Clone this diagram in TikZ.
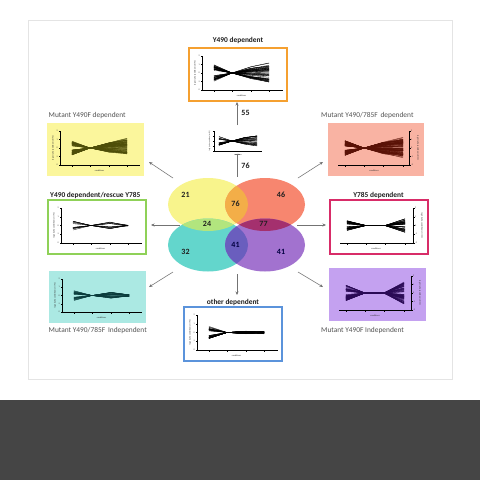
\documentclass[tikz,border=0pt]{standalone}
\usepackage{fontspec}
\setmainfont{Carlito}
\usetikzlibrary{arrows.meta}
\definecolor{cardline}{HTML}{E4E4E4}
\definecolor{band}{HTML}{454545}
\definecolor{vY}{HTML}{F8F48C}
\definecolor{vR}{HTML}{F7866F}
\definecolor{vT}{HTML}{63D6CC}
\definecolor{vP}{HTML}{A272CF}
\definecolor{vYR}{HTML}{F3AE48}
\definecolor{vYT}{HTML}{B2E57E}
\definecolor{vRP}{HTML}{A4306E}
\definecolor{vTP}{HTML}{6A5EBE}
\definecolor{pY}{HTML}{FBF69C}
\definecolor{pR}{HTML}{F9B3A3}
\definecolor{pT}{HTML}{ABE9E3}
\definecolor{pP}{HTML}{C4A1F0}
\definecolor{bO}{HTML}{F5A030}
\definecolor{bG}{HTML}{8FD158}
\definecolor{bC}{HTML}{D82C68}
\definecolor{bB}{HTML}{5B93DB}
\definecolor{lY}{HTML}{4E4E08}
\definecolor{lR}{HTML}{5A1206}
\definecolor{lT}{HTML}{0A3C3C}
\definecolor{lP}{HTML}{2A0A55}

\newcommand\mkpanel[6]{\node[#6, minimum width={#4-#2}, minimum height={#5-#3}, inner sep=0pt, outer sep=0pt] (#1) at ({(#2+#4)/2},{(#3+#5)/2}) {};}

% normal axes (y axis on the left)
\newcommand\axesN[4]{%
 \pgfmathsetmacro\xa{#1+25}\pgfmathsetmacro\xb{#1+43}\pgfmathsetmacro\xc{#1+62}\pgfmathsetmacro\xd{#1+80}%
 \pgfmathsetmacro\ya{#2+8}\pgfmathsetmacro\yb{#4-11}\pgfmathsetmacro\ym{(\ya+\yb)/2}%
 \pgfmathsetmacro\yx{#1+13}%
 \draw[ax] (\yx,\ya) -- (\yx,\yb) -- (#3-4,\yb);
 \foreach \k/\lab in {0/2,1/1,2/0,3/-1,4/-2}{%
   \draw[ax] (\yx,{\ya+\k*(\yb-\ya)/4}) -- ++(-1.5,0);
   \node[tiny,anchor=east] at (\yx-2,{\ya+\k*(\yb-\ya)/4}) {\lab};}
 \foreach \xx in {\xa,\xb,\xc,\xd} \draw[ax] (\xx,\yb) -- ++(0,1.5);
 \node[tiny, rotate=90] at (#1+6,\ym) {log2 (ratio condition/ctrl FC)};
 \node[tiny] at ({(\xa+\xd)/2},\yb+6) {conditions};
}
% mirrored axes (y axis on the right)
\newcommand\axesM[4]{%
 \pgfmathsetmacro\xa{#1+17}\pgfmathsetmacro\xb{#1+36}\pgfmathsetmacro\xc{#1+55}\pgfmathsetmacro\xd{#1+75}%
 \pgfmathsetmacro\ya{#2+8}\pgfmathsetmacro\yb{#4-11}\pgfmathsetmacro\ym{(\ya+\yb)/2}%
 \pgfmathsetmacro\yx{#3-15}%
 \draw[ax] (#1+10,\yb) -- (\yx,\yb) -- (\yx,\ya);
 \foreach \k/\lab in {0/2,1/1,2/0,3/-1,4/-2}{%
   \draw[ax] (\yx,{\ya+\k*(\yb-\ya)/4}) -- ++(1.5,0);
   \node[tiny,anchor=west] at (\yx+2,{\ya+\k*(\yb-\ya)/4}) {\lab};}
 \foreach \xx in {\xa,\xb,\xc,\xd} \draw[ax] (\xx,\yb) -- ++(0,1.5);
 \node[tiny, rotate=-90] at (#3-6,\ym) {log2 (ratio condition/ctrl FC)};
 \node[tiny] at ({(\xa+\xd)/2},\yb+6) {conditions};
}
% bundle of profile lines
\newcommand\bundle[5][]{%
 \foreach \i in {1,...,#2}{%
  \pgfmathsetmacro\sA{2*(rnd>0.5)-1}%
  \pgfmathsetmacro\sB{2*(rnd>0.5)-1}%
  \pgfmathsetmacro\va{#3}%
  \pgfmathsetmacro\vb{#4}%
  \pgfmathsetmacro\vc{#5}%
  \draw[dl,#1] (\xa,\ym+\va) -- (\xb,\ym) -- (\xc,\ym+\vb) -- (\xd,\ym+\vc);
 }}

\begin{document}
\begin{tikzpicture}[x=1pt,y=-1pt,
  ax/.style={line width=0.4pt, black},
  dl/.style={line width=0.3pt, black},
  arr/.style={draw=black!55, line width=0.55pt, -{Stealth[length=3.5pt,width=3pt]}},
  ttl/.style={font=\fontsize{7.4}{8}\selectfont, text=black!68, inner sep=0pt},
  bttl/.style={font=\fontsize{7.4}{8}\bfseries\selectfont, text=black!88, inner sep=0pt},
  num/.style={font=\fontsize{8}{9}\bfseries\selectfont, text=black!88, inner sep=0pt},
  tiny/.style={font=\fontsize{2.2}{2.5}\selectfont, inner sep=0pt, text=black!80},
  boxed/.style={draw=#1, line width=1.1pt, fill=white},
  filled/.style={fill=#1, draw=none}
]
\pgfmathsetseed{11}
\useasboundingbox (0,0) rectangle (480,480);
\fill[white] (0,0) rectangle (480,480);
\fill[band] (0,400) rectangle (480,480);
\draw[cardline, line width=0.6pt, fill=white] (28,20) rectangle (452,379);

% ---------- Venn diagram ----------
\fill[vY] (208,204.5) ellipse [x radius=40, y radius=26.5];
\fill[vR] (265,204.5) ellipse [x radius=40, y radius=26.5];
\fill[vT] (208,245) ellipse [x radius=40, y radius=26.5];
\fill[vP] (265,245) ellipse [x radius=40, y radius=26.5];
\begin{scope}
 \clip (208,204.5) ellipse [x radius=40, y radius=26.5];
 \fill[vYR] (265,204.5) ellipse [x radius=40, y radius=26.5];
 \fill[vYT] (208,245) ellipse [x radius=40, y radius=26.5];
\end{scope}
\begin{scope}
 \clip (265,245) ellipse [x radius=40, y radius=26.5];
 \fill[vRP] (265,204.5) ellipse [x radius=40, y radius=26.5];
 \fill[vTP] (208,245) ellipse [x radius=40, y radius=26.5];
\end{scope}
\node[num] (n21) at (185.5,194.5) {21};
\node[num] (n46) at (281,194.5) {46};
\node[num] (n76) at (235.5,203.5) {76};
\node[num] (n24) at (207,224) {24};
\node[num] (n77) at (263.5,224) {77};
\node[num] (n32) at (185.5,252) {32};
\node[num, text=black!75!blue] (n41a) at (235.5,244.5) {41};
\node[num, text=black!75!blue] (n41b) at (281,252) {41};

% ---------- titles ----------
\node[bttl] (tTop) at (238,40) {Y490 dependent};
\node[ttl, anchor=west] (tY) at (48.5,116) {Mutant Y490F dependent};
\node[ttl, anchor=west] (tR) at (321,116) {Mutant Y490/785F\, dependent};
\node[bttl, anchor=west] (tG) at (50,195) {Y490 dependent/rescue Y785};
\node[bttl] (tC) at (378.5,195) {Y785 dependent};
\node[ttl, anchor=west] (tT) at (48.5,331) {Mutant Y490/785F\, Independent};
\node[ttl, anchor=west] (tP) at (321,331) {Mutant Y490F Independent};
\node[bttl] (tB) at (233,302) {other dependent};

% ---------- panels ----------
\mkpanel{pTop}{189}{48}{287}{101}{boxed=bO}
\axesN{189}{48}{287}{101}
\bundle{45}{\sA*(2.5+5*rnd)}{\sB*(0.5+5*rnd)}{\vb*(1.3+0.7*rnd)}
\bundle{4}{\sA*(7+2*rnd)}{\sB*(5+2*rnd)}{\vb*1.6}

\mkpanel{pY}{47}{123}{144}{176}{filled=pY}
\axesN{47}{123}{144}{176}
\bundle[draw=lY]{80}{\sA*(2+5*rnd)}{\sB*(0.3+5*rnd)}{\vb*(1.2+0.8*rnd)}

\mkpanel{pR}{328}{123}{424}{176}{filled=pR}
\axesM{328}{123}{424}{176}
\bundle[draw=lR]{100}{\sA*(2+5.5*rnd)}{\sB*(0.3+5.5*rnd)}{\vb*(1.2+0.8*rnd)}

\mkpanel{pG}{48}{200}{146}{254}{boxed=bG}
\axesN{48}{200}{146}{254}
\bundle{14}{\sA*(1.5+3*rnd)}{\sB*(1+3*rnd)}{0.8*(rnd-0.5)}

\mkpanel{pC}{330}{200}{428}{254}{boxed=bC}
\axesM{330}{200}{428}{254}
\bundle{45}{\sA*(1+4*rnd)}{0.3*(rnd-0.5)}{\sB*(1+6*rnd)}

\mkpanel{pT}{49}{271}{146}{323}{filled=pT}
\axesN{49}{271}{146}{323}
\bundle[draw=lT]{40}{\sA*(1+4*rnd)}{\sB*(0.2+3*rnd)}{0.8*\sB*rnd}

\mkpanel{pP}{329}{268}{426}{321}{filled=pP}
\axesM{329}{268}{426}{321}
\bundle[draw=lP]{80}{\sA*(1.5+6.5*rnd)}{0.6*(rnd-0.5)}{\sB*(1+10*rnd)}

\mkpanel{pB}{184}{307}{282}{361}{boxed=bB}
\axesN{184}{307}{282}{361}
\bundle{3}{-(5+3*rnd)}{0.5*(rnd-0.5)}{0.5*(rnd-0.5)}
\bundle{30}{3+3*rnd}{1.4*(2*rnd-1)}{1.4*(2*rnd-1)}
\bundle{20}{-(1.5+2.5*rnd)}{1.4*(2*rnd-1)}{1.4*(2*rnd-1)}

% small central chart
\node[minimum width=60pt, minimum height=27pt, inner sep=0pt] (sc) at (236,139.5) {};
\pgfmathsetmacro\xa{219}\pgfmathsetmacro\xb{232}\pgfmathsetmacro\xc{245}\pgfmathsetmacro\xd{257}
\pgfmathsetmacro\ym{141}
\draw[ax] (214,131) -- (214,151) -- (262,151);
\foreach \k in {0,...,4} \draw[ax] (214,131+5*\k) -- ++(-1.2,0);
\node[tiny, rotate=90, font=\fontsize{1.8}{2}\selectfont] at (209.5,141) {log2 (ratio condition/ctrl FC)};
\node[tiny, font=\fontsize{1.8}{2}\selectfont] at (238,154.5) {conditions};
\bundle{30}{\sA*(1.5+3*rnd)}{\sB*(0.3+3.5*rnd)}{\vb*(1.2+0.5*rnd)}

% ---------- connectors ----------
\coordinate (c55s) at (237,125);   \coordinate (c55e) at (237,102);
\coordinate (c76s) at (237,176.5); \coordinate (c76e) at (237,154);
\coordinate (cULs) at (173,178);   \coordinate (cULe) at (149,162);
\coordinate (cURs) at (298,178);   \coordinate (cURe) at (323,162);
\coordinate (cLs)  at (180,225);   \coordinate (cLe)  at (151,225);
\coordinate (cRs)  at (297,225);   \coordinate (cRe)  at (326,225);
\coordinate (cDLs) at (173,272);   \coordinate (cDLe) at (149,287);
\coordinate (cDRs) at (298,272);   \coordinate (cDRe) at (323,287);
\coordinate (cDs)  at (237,274);   \coordinate (cDe)  at (237,295);
\draw[arr] (c55s) -- (c55e);
\draw[arr, -{Bar[width=5pt]}] (c76s) -- (c76e);
\draw[arr] (cULs) -- (cULe);
\draw[arr] (cURs) -- (cURe);
\draw[arr] (cLs) -- (cLe);
\draw[arr] (cRs) -- (cRe);
\draw[arr] (cDLs) -- (cDLe);
\draw[arr] (cDRs) -- (cDRe);
\draw[arr] (cDs) -- (cDe);
\node[num] (l55) at (245.5,113) {55};
\node[num] (l76) at (245.5,166) {76};
\end{tikzpicture}
\end{document}
